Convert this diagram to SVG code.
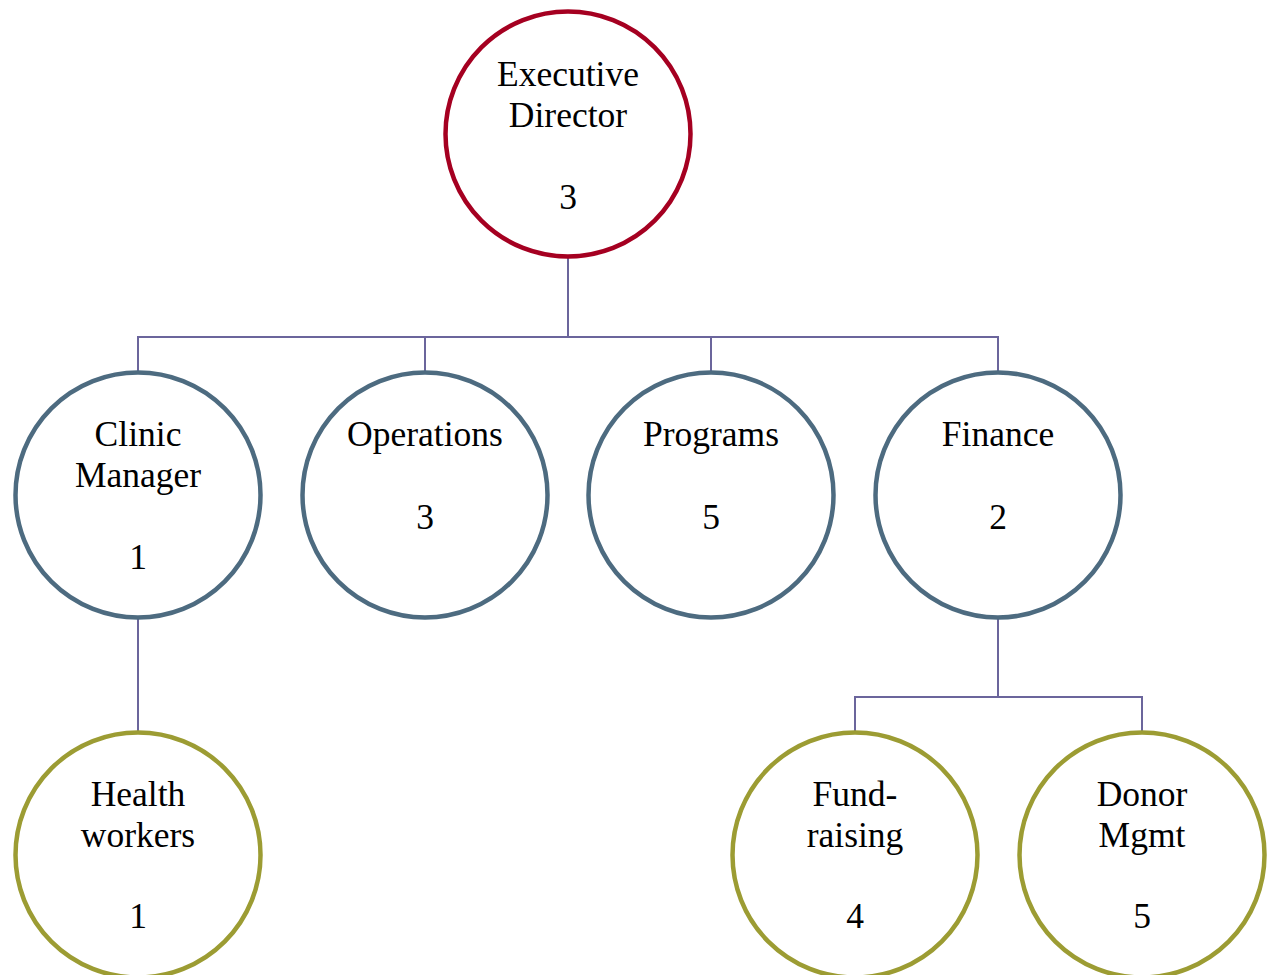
<svg xmlns="http://www.w3.org/2000/svg" width="1270" height="975" viewBox="0 0 1270 975">
<style>
.n{fill:#fff;stroke-width:4.5}
.r{stroke:#A50021}
.b{stroke:#4D6B80}
.o{stroke:#9C9C33}
text{font-family:"Liberation Serif","Times New Roman",serif;font-size:35.5px;fill:#000;text-anchor:middle}
.c path{fill:none;stroke:#6B659C;stroke-width:2}
</style>
<rect width="1270" height="975" fill="#fff"/>
<g class="c" id="connectors">
<path d="M568 256 V337 H138 V373"/>
<path d="M568 256 V337 H425 V373"/>
<path d="M568 256 V337 H711 V373"/>
<path d="M568 256 V337 H998 V373"/>
<path d="M138 617 V733"/>
<path d="M998 617 V697 H855 V733"/>
<path d="M998 617 V697 H1142 V733"/>
</g>
<g id="executive-director"><circle class="n r" cx="568" cy="134" r="122.5"/><text x="568" y="86">Executive</text><text x="568" y="127">Director</text><text x="568" y="209">3</text></g>
<g id="clinic-manager"><circle class="n b" cx="138" cy="495" r="122.5"/><text x="138" y="446">Clinic</text><text x="138" y="487">Manager</text><text x="138" y="569">1</text></g>
<g id="operations"><circle class="n b" cx="425" cy="495" r="122.5"/><text x="425" y="446">Operations</text><text x="425" y="529">3</text></g>
<g id="programs"><circle class="n b" cx="711" cy="495" r="122.5"/><text x="711" y="446">Programs</text><text x="711" y="529">5</text></g>
<g id="finance"><circle class="n b" cx="998" cy="495" r="122.5"/><text x="998" y="446">Finance</text><text x="998" y="529">2</text></g>
<g id="health-workers"><circle class="n o" cx="138" cy="855" r="122.5"/><text x="138" y="806">Health</text><text x="138" y="847">workers</text><text x="138" y="928">1</text></g>
<g id="fundraising"><circle class="n o" cx="855" cy="855" r="122.5"/><text x="855" y="806">Fund-</text><text x="855" y="847">raising</text><text x="855" y="928">4</text></g>
<g id="donor-mgmt"><circle class="n o" cx="1142" cy="855" r="122.5"/><text x="1142" y="806">Donor</text><text x="1142" y="847">Mgmt</text><text x="1142" y="928">5</text></g>
</svg>
